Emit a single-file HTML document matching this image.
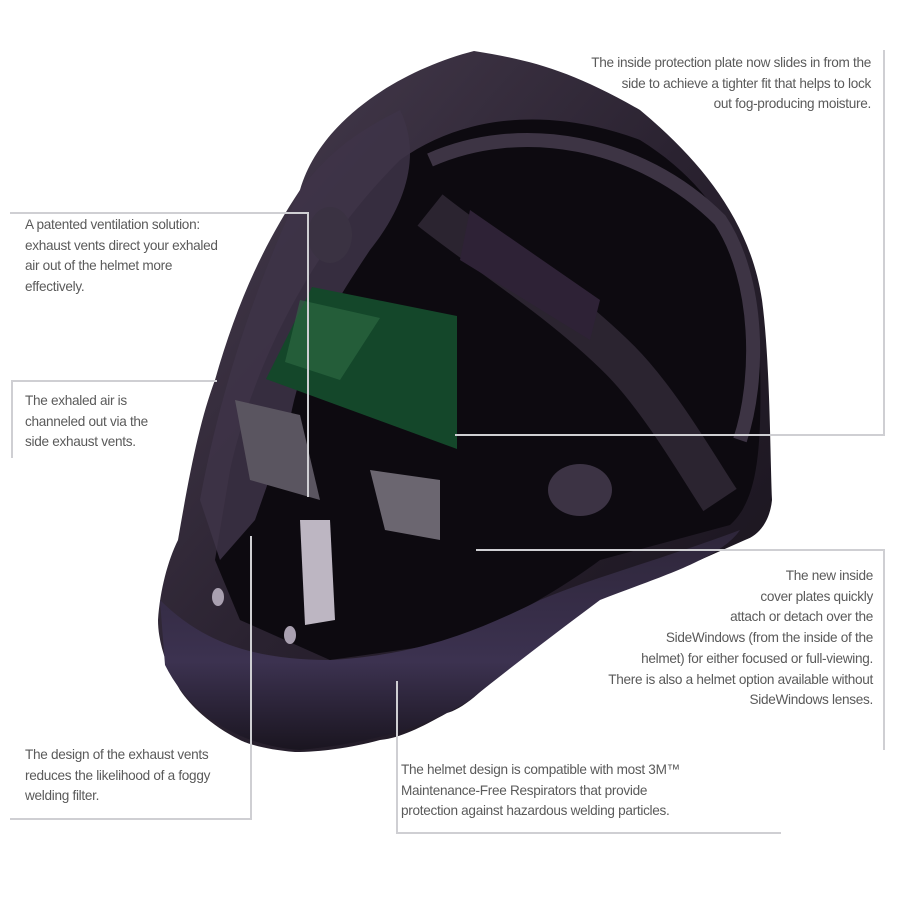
<!DOCTYPE html>
<html><head><meta charset="utf-8"><style>
html,body{margin:0;padding:0;background:#fff;}
#c{position:relative;width:899px;height:899px;overflow:hidden;background:#fff;font-family:"Liberation Sans Narrow","Liberation Sans",sans-serif;color:#5a5a5a;font-size:13.6px;line-height:20.7px;}
.t{position:absolute;white-space:nowrap;letter-spacing:-0.3px;}
.r{text-align:right;}
svg{position:absolute;left:0;top:0;}
</style></head><body><div id="c">
<svg width="899" height="899" viewBox="0 0 899 899">
<defs>
<linearGradient id="sh" x1="0" y1="0" x2="1" y2="1">
<stop offset="0" stop-color="#4a3f52"/><stop offset="0.5" stop-color="#2a2230"/><stop offset="1" stop-color="#17121b"/>
</linearGradient>
<linearGradient id="rim" x1="0" y1="0" x2="0" y2="1">
<stop offset="0" stop-color="#2e263a"/><stop offset="0.6" stop-color="#3c3250"/><stop offset="1" stop-color="#1a1520"/>
</linearGradient>
</defs>
<path d="M300,190 C320,120 400,70 474,51 C530,60 570,70 640,110 C700,160 750,220 762,300 C770,360 770,450 772,500 C770,520 760,535 745,540 L700,560 C640,580 600,595 580,600 C545,625 530,640 513,650 C490,690 460,710 447,713 C420,728 400,738 380,740 C350,748 320,752 295,752 C270,750 250,745 240,740 C210,725 190,705 180,690 C165,665 158,640 158,620 C160,590 168,560 178,540 C190,470 200,420 215,380 C235,310 260,250 300,190 Z" fill="url(#sh)"/>
<path d="M400,160 C470,110 560,110 640,140 C720,190 755,260 760,360 C762,450 758,500 730,525 L600,560 C560,590 520,610 470,640 L330,660 L240,620 L215,560 L230,470 C250,380 300,260 400,160 Z" fill="#0d0a10"/>
<path d="M160,600 C200,640 250,660 330,660 C420,655 480,630 540,600 C600,575 660,560 740,530 C720,560 650,580 600,600 C560,630 520,660 470,700 C430,725 380,742 300,750 C240,746 190,715 165,665 Z" fill="url(#rim)"/>
<path d="M300,190 C330,150 360,130 400,110 C420,150 410,200 370,250 C330,310 300,360 290,420 L255,520 L220,560 L200,500 C215,420 240,320 300,190 Z" fill="#3e3448" opacity="0.85"/>
<path d="M312,287 L457,316 L457,449 L266,379 Z" fill="#14472a"/>
<path d="M300,300 L380,318 L340,380 L285,362 Z" fill="#2f6d44" opacity="0.6"/>
<path d="M235,400 L300,415 L320,500 L250,480 Z" fill="#5a5560"/>
<path d="M370,470 L440,480 L440,540 L385,530 Z" fill="#6b6670"/>
<path d="M430,160 C520,120 640,140 720,220 C760,280 760,380 740,440" fill="none" stroke="#3d3444" stroke-width="14"/>
<path d="M430,210 C480,250 560,300 620,360 C660,400 700,470 720,500" fill="none" stroke="#2b2430" stroke-width="40"/>
<path d="M470,210 L600,300 L590,340 L460,260 Z" fill="#2e2236"/>
<ellipse cx="330" cy="235" rx="22" ry="28" fill="#3a3242"/>
<ellipse cx="580" cy="490" rx="32" ry="26" fill="#3c3344"/>
<ellipse cx="218" cy="597" rx="6" ry="9" fill="#a9a0b0"/>
<ellipse cx="290" cy="635" rx="6" ry="9" fill="#a9a0b0"/>
<path d="M300,520 L330,520 L335,620 L305,625 Z" fill="#bdb6c2"/>
<g stroke="#cfcfd3" stroke-width="2" fill="none">
<polyline points="10,213 308,213 308,497"/>
<polyline points="12,458 12,381 217,381"/>
<polyline points="455,435 884,435 884,50"/>
<polyline points="476,550 884,550 884,750"/>
<polyline points="397,681 397,833 781,833"/>
<polyline points="251,536 251,819 10,819"/>
</g>
</svg>
<div class="t r" style="right:28px;top:53px;">The inside protection plate now slides in from the<br>side to achieve a tighter fit that helps to lock<br>out fog-producing moisture.</div>
<div class="t" style="left:25px;top:215px;">A patented ventilation solution:<br>exhaust vents direct your exhaled<br>air out of the helmet more<br>effectively.</div>
<div class="t" style="left:25px;top:391px;">The exhaled air is<br>channeled out via the<br>side exhaust vents.</div>
<div class="t r" style="right:26px;top:566px;">The new inside<br>cover plates quickly<br>attach or detach over the<br>SideWindows (from the inside of the<br>helmet) for either focused or full-viewing.<br>There is also a helmet option available without<br>SideWindows lenses.</div>
<div class="t" style="left:25px;top:745px;">The design of the exhaust vents<br>reduces the likelihood of a foggy<br>welding filter.</div>
<div class="t" style="left:401px;top:760px;">The helmet design is compatible with most 3M™<br>Maintenance-Free Respirators that provide<br>protection against hazardous welding particles.</div>
</div></body></html>
